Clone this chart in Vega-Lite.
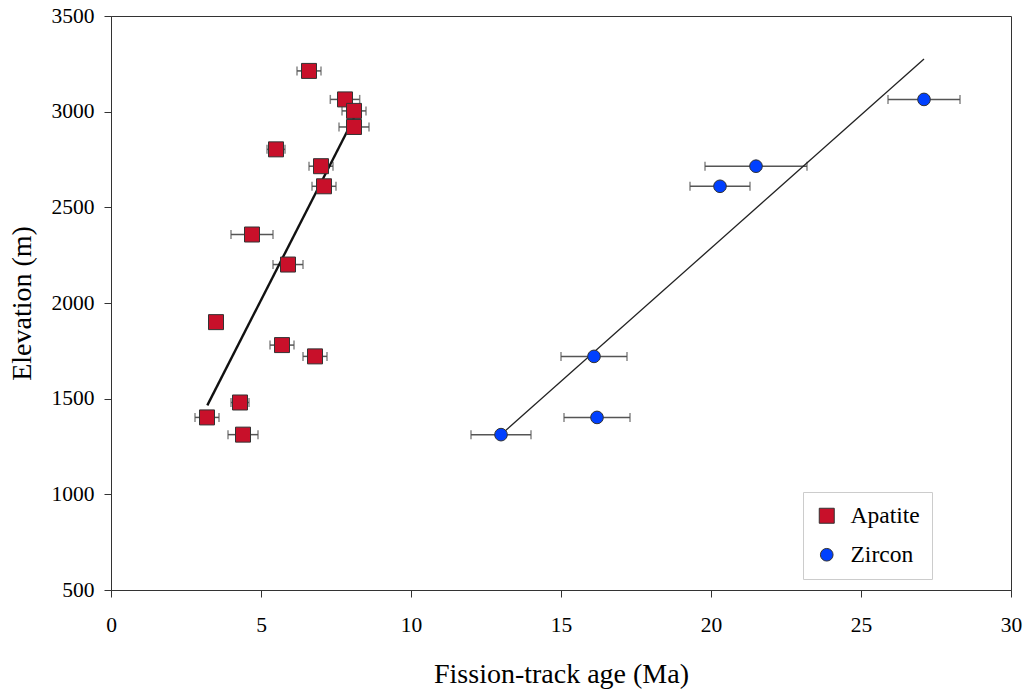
{
  "$schema": "https://vega.github.io/schema/vega-lite/v6.json",
  "width": 900,
  "height": 574,
  "autosize": {"type": "none"},
  "padding": {"left": 111, "top": 16, "right": 13, "bottom": 107},
  "background": "white",
  "datasets": {
    "samples": [
      {"mineral": "Apatite", "age": 6.6, "err": 0.4, "elev": 3213},
      {"mineral": "Apatite", "age": 7.8, "err": 0.49, "elev": 3064},
      {"mineral": "Apatite", "age": 8.1, "err": 0.4, "elev": 3004},
      {"mineral": "Apatite", "age": 8.1, "err": 0.5, "elev": 2920},
      {"mineral": "Apatite", "age": 5.5, "err": 0.3, "elev": 2803},
      {"mineral": "Apatite", "age": 7.0, "err": 0.4, "elev": 2715},
      {"mineral": "Apatite", "age": 7.1, "err": 0.4, "elev": 2610},
      {"mineral": "Apatite", "age": 4.7, "err": 0.7, "elev": 2358},
      {"mineral": "Apatite", "age": 5.9, "err": 0.5, "elev": 2201},
      {"mineral": "Apatite", "age": 3.5, "err": 0, "elev": 1900},
      {"mineral": "Apatite", "age": 5.7, "err": 0.4, "elev": 1780},
      {"mineral": "Apatite", "age": 6.8, "err": 0.4, "elev": 1721},
      {"mineral": "Apatite", "age": 4.3, "err": 0.3, "elev": 1480},
      {"mineral": "Apatite", "age": 3.2, "err": 0.4, "elev": 1402},
      {"mineral": "Apatite", "age": 4.4, "err": 0.5, "elev": 1312},
      {"mineral": "Zircon", "age": 27.1, "err": 1.2, "elev": 3064},
      {"mineral": "Zircon", "age": 21.5, "err": 1.7, "elev": 2715},
      {"mineral": "Zircon", "age": 20.3, "err": 1.0, "elev": 2610},
      {"mineral": "Zircon", "age": 16.1, "err": 1.1, "elev": 1721},
      {"mineral": "Zircon", "age": 16.2, "err": 1.1, "elev": 1402},
      {"mineral": "Zircon", "age": 13.0, "err": 1.0, "elev": 1312}
    ],
    "fits": [
      {"mineral": "Apatite", "age": 3.21, "elev": 1465},
      {"mineral": "Apatite", "age": 8.1, "elev": 2967},
      {"mineral": "Zircon", "age": 13.0, "elev": 1312},
      {"mineral": "Zircon", "age": 27.1, "elev": 3275}
    ]
  },
  "encoding": {
    "x": {
      "field": "age",
      "type": "quantitative",
      "title": "Fission-track age (Ma)",
      "scale": {"domain": [0, 30], "nice": false},
      "axis": {"values": [0, 5, 10, 15, 20, 25, 30], "format": "d"}
    },
    "y": {
      "field": "elev",
      "type": "quantitative",
      "title": "Elevation (m)",
      "scale": {"domain": [500, 3500], "nice": false, "zero": false},
      "axis": {"values": [500, 1000, 1500, 2000, 2500, 3000, 3500], "format": "d"}
    }
  },
  "layer": [
    {
      "data": {"name": "samples"},
      "mark": {"type": "errorbar", "color": "#555", "thickness": 1.5, "ticks": {"size": 9, "color": "#555", "thickness": 1.5}},
      "encoding": {
        "x": {"field": "age", "type": "quantitative"},
        "xError": {"field": "err"},
        "y": {"field": "elev", "type": "quantitative"}
      }
    },
    {
      "data": {"name": "fits"},
      "transform": [{"filter": "datum.mineral === 'Apatite'"}],
      "mark": {"type": "line", "color": "#111", "strokeWidth": 2.4},
      "encoding": {}
    },
    {
      "data": {"name": "fits"},
      "transform": [{"filter": "datum.mineral === 'Zircon'"}],
      "mark": {"type": "line", "color": "#222", "strokeWidth": 1.3},
      "encoding": {}
    },
    {
      "data": {"name": "samples"},
      "mark": {"type": "point", "filled": true, "stroke": "#333", "strokeWidth": 1, "opacity": 1},
      "encoding": {
        "color": {
          "field": "mineral",
          "type": "nominal",
          "scale": {"domain": ["Apatite", "Zircon"], "range": ["#c8102a", "#0040ff"]},
          "legend": {
            "orient": "none",
            "legendX": 692,
            "legendY": 476,
            "title": null,
            "padding": 12,
            "rowPadding": 14,
            "labelOffset": 12,
            "strokeColor": "#cccccc",
            "fillColor": "white",
            "symbolStrokeColor": "#333",
            "symbolStrokeWidth": 1
          }
        },
        "shape": {
          "field": "mineral",
          "type": "nominal",
          "scale": {"domain": ["Apatite", "Zircon"], "range": ["square", "circle"]}
        },
        "size": {
          "field": "mineral",
          "type": "nominal",
          "scale": {"domain": ["Apatite", "Zircon"], "range": [225, 160]}
        }
      }
    }
  ],
  "config": {
    "font": "Liberation Serif",
    "view": {"stroke": "#333", "strokeWidth": 1},
    "axis": {
      "grid": false,
      "domainColor": "#333",
      "tickColor": "#333",
      "tickSize": 7,
      "labelFont": "Liberation Serif",
      "labelFontSize": 21.5,
      "labelColor": "#000",
      "titleFont": "Liberation Serif",
      "titleFontSize": 28,
      "titleFontWeight": "normal",
      "titleColor": "#000"
    },
    "axisX": {"labelPadding": 17, "titlePadding": 25, "labelFlush": false},
    "axisY": {"labelPadding": 10, "titlePadding": 15, "labelFlush": false},
    "legend": {
      "labelFont": "Liberation Serif",
      "labelFontSize": 23.5,
      "labelColor": "#000"
    }
  }
}
